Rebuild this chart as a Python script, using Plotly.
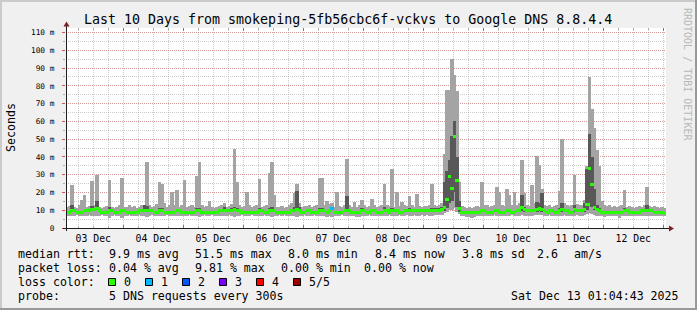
import datetime as dt
import plotly.graph_objects as go

# ---------------- data (hourly buckets starting 2025-12-03 01:00) ----------------
hi_ms = [
    12, 12.5, 24, 12, 11.5, 13, 15.8, 18.6, 12, 12.5, 26.5, 13, 30, 12, 11.5, 12, 12.5, 27, 12, 11.5, 12, 13, 28.4, 12,
    12, 13, 12, 12.5, 11.5, 12, 13, 13, 37, 13, 12, 12.5, 13.5, 26, 25, 14, 12, 13, 20.5, 13, 21.4, 12, 13, 27,
    12, 12.5, 13, 12, 29, 37, 13, 12, 12.5, 15, 12, 11.5, 12, 12.5, 13, 14, 12, 12.5, 13.5, 44.6, 26, 13, 12, 12.5,
    20, 13, 12, 12.5, 13, 27.6, 12, 12.5, 13, 31, 37.4, 18.6, 12, 12, 12.5, 11.5, 12, 13, 14, 19.7, 24.8, 14, 12, 12.5,
    12.5, 13, 12, 12.5, 13, 28.4, 28, 13, 15, 13.5, 14, 12, 20.5, 12.5, 12, 13, 39, 13, 12, 14.6, 12, 13, 15.8, 13,
    12, 12.5, 16.4, 13, 12, 12.5, 13, 25, 13, 12.5, 33.3, 12, 20.3, 12.5, 14.6, 13, 12.5, 18.2, 13, 12, 19, 12.5, 12, 12.5,
    12.5, 13, 24.8, 13, 12.6, 13, 14, 41.6, 77.8, 77.8, 95, 86, 77, 26, 12.5, 12, 11.5, 12, 11, 12, 12.5, 12, 26, 13,
    13, 12, 12.5, 13, 23.3, 20.5, 13, 12.5, 22, 18.6, 13, 20, 13, 14, 38.3, 19.7, 13, 12.5, 24.2, 14, 40.6, 35.6, 22, 13,
    12.5, 13, 12, 12.5, 13, 21, 50, 14, 13, 12.5, 13, 30, 13.5, 13, 13, 16, 34.6, 85, 67, 56, 44, 34.6, 15, 13,
    12.5, 13, 12, 12.5, 12, 12.5, 13, 21.4, 12, 12.5, 12, 11.5, 12, 12.5, 12, 13, 23.3, 12.5, 12, 12.5, 12, 11.5, 12, 11.5,
]
dhi_ms = [
    9.5, 9.5, 13.0, 10.1, 9.5, 9.5, 9.5, 10.1, 10.1, 10.1, 12.5, 11.0, 15.0, 10.1, 9.5, 9.5, 9.5, 12.0, 10.1, 9.5, 9.5, 9.5, 10.1, 10.1,
    9.5, 9.5, 9.5, 9.5, 9.5, 10.1, 10.1, 13.0, 12.5, 10.1, 10.1, 9.5, 9.5, 11.5, 11.5, 9.5, 9.5, 9.5, 9.5, 9.5, 10.1, 10.1, 9.5, 9.5,
    9.5, 9.5, 9.5, 9.5, 11.0, 11.5, 9.5, 9.5, 9.5, 9.5, 9.5, 9.5, 9.5, 10.1, 10.1, 12.0, 10.1, 10.1, 11.2, 11.8, 11.2, 10.1, 9.5, 9.5,
    9.5, 9.5, 9.5, 9.5, 9.5, 11.0, 10.1, 9.5, 9.5, 11.2, 12.0, 10.1, 9.5, 9.5, 9.5, 9.0, 9.0, 9.5, 10.1, 12.0, 21.0, 12.0, 9.5, 9.5,
    10.1, 10.1, 9.5, 9.5, 9.5, 11.0, 11.2, 10.1, 9.5, 10.1, 12.0, 9.5, 9.5, 9.5, 9.5, 10.1, 18.0, 10.1, 9.5, 9.5, 9.5, 9.5, 11.0, 10.1,
    9.5, 9.5, 10.1, 10.1, 9.5, 9.5, 9.5, 12.0, 10.1, 9.5, 11.0, 10.1, 10.1, 9.5, 9.5, 10.1, 10.1, 11.2, 10.6, 10.1, 10.1, 10.1, 10.1, 10.1,
    10.1, 10.6, 11.5, 11.0, 11.2, 11.5, 12.0, 26.0, 32.0, 38.0, 52.0, 60.0, 40.0, 15.0, 9.5, 9.0, 9.0, 9.0, 9.0, 9.5, 9.5, 9.5, 10.1, 10.1,
    9.5, 9.5, 9.5, 10.1, 10.1, 9.5, 9.5, 9.5, 10.1, 10.1, 9.5, 9.5, 10.1, 10.1, 18.6, 12.0, 10.1, 10.1, 10.1, 10.1, 14.8, 14.0, 19.7, 10.1,
    9.5, 10.1, 10.1, 9.5, 9.5, 11.5, 14.0, 10.1, 10.1, 9.5, 9.5, 13.0, 10.1, 10.1, 10.6, 14.0, 33.0, 53.0, 40.0, 22.0, 13.0, 11.0, 9.5, 9.5,
    9.5, 9.5, 9.5, 9.5, 9.5, 9.5, 9.5, 11.0, 10.1, 9.5, 9.5, 9.5, 9.5, 9.5, 10.1, 10.1, 13.0, 10.1, 10.1, 9.5, 9.5, 9.5, 9.5, 8.9,
]
median_ms = [
    9.0, 9.0, 9.6, 9.6, 9.0, 9.0, 9.0, 9.6, 9.6, 9.6, 10.5, 10.5, 11.2, 9.6, 9.0, 9.0, 9.0, 9.6, 9.6, 9.0, 9.0, 9.0, 9.6, 9.6,
    9.0, 9.0, 9.0, 9.0, 9.0, 9.6, 9.6, 10.1, 10.1, 9.6, 9.6, 9.0, 9.0, 9.6, 9.6, 9.0, 9.0, 9.0, 9.0, 9.0, 9.6, 9.6, 9.0, 9.0,
    9.0, 9.0, 9.0, 9.0, 9.6, 9.6, 9.0, 9.0, 9.0, 9.0, 9.0, 9.0, 9.0, 9.6, 9.6, 10.1, 9.6, 9.6, 9.6, 10.5, 10.1, 9.6, 9.0, 9.0,
    9.0, 9.0, 9.0, 9.0, 9.0, 9.6, 9.6, 9.0, 9.0, 9.6, 9.6, 9.6, 9.0, 9.0, 9.0, 8.5, 8.5, 9.0, 9.6, 10.1, 10.5, 9.6, 9.0, 9.0,
    9.6, 9.6, 9.0, 9.0, 9.0, 9.6, 9.6, 9.6, 9.0, 9.6, 10.8, 9.0, 9.0, 9.0, 9.0, 9.6, 10.1, 9.6, 9.0, 9.0, 9.0, 9.0, 9.6, 9.6,
    9.0, 9.0, 9.6, 9.6, 9.0, 9.0, 9.0, 9.6, 9.6, 9.0, 9.6, 9.6, 9.6, 9.0, 9.0, 9.6, 9.6, 10.1, 10.1, 9.6, 9.6, 9.6, 9.6, 9.6,
    9.6, 9.6, 10.1, 10.1, 10.1, 10.1, 10.5, 11.5, 15.8, 29.0, 22.0, 51.5, 26.5, 10.7, 9.0, 8.5, 8.5, 8.5, 8.5, 9.0, 9.0, 9.0, 9.6, 9.6,
    9.0, 9.0, 9.0, 9.6, 9.6, 9.0, 9.0, 9.0, 9.6, 9.6, 9.0, 9.0, 9.6, 9.6, 11.8, 10.5, 9.6, 9.6, 9.6, 9.6, 10.5, 11.0, 10.5, 9.6,
    9.0, 9.6, 9.6, 9.0, 9.0, 10.1, 10.6, 9.6, 9.6, 9.0, 9.0, 10.5, 9.6, 9.6, 10.1, 10.5, 13.4, 33.3, 24.6, 11.3, 10.2, 9.6, 9.0, 9.0,
    9.0, 9.0, 9.0, 9.0, 9.0, 9.0, 9.0, 9.6, 9.6, 9.0, 9.0, 9.0, 9.0, 9.0, 9.6, 9.6, 10.1, 9.6, 9.6, 9.0, 9.0, 9.0, 9.0, 8.4,
]
dlo_ms = [
    8.5, 8.5, 9.1, 9.1, 8.5, 8.5, 8.5, 9.1, 9.1, 9.1, 10.0, 10.0, 10.7, 9.1, 8.5, 8.5, 8.5, 9.1, 9.1, 8.5, 8.5, 8.5, 9.1, 9.1,
    8.5, 8.5, 8.5, 8.5, 8.5, 9.1, 9.1, 9.6, 9.6, 9.1, 9.1, 8.5, 8.5, 9.1, 9.1, 8.5, 8.5, 8.5, 8.5, 8.5, 9.1, 9.1, 8.5, 8.5,
    8.5, 8.5, 8.5, 8.5, 9.1, 9.1, 8.5, 8.5, 8.5, 8.5, 8.5, 8.5, 8.5, 9.1, 9.1, 9.6, 9.1, 9.1, 9.1, 10.0, 9.6, 9.1, 8.5, 8.5,
    8.5, 8.5, 8.5, 8.5, 8.5, 9.1, 9.1, 8.5, 8.5, 9.1, 9.1, 9.1, 8.5, 8.5, 8.5, 8.0, 8.0, 8.5, 9.1, 9.6, 9.5, 9.1, 8.5, 8.5,
    9.1, 9.1, 8.5, 8.5, 8.5, 9.1, 9.1, 9.1, 8.5, 9.1, 10.0, 8.5, 8.5, 8.5, 8.5, 9.1, 9.6, 9.1, 8.5, 8.5, 8.5, 8.5, 9.1, 9.1,
    8.5, 8.5, 9.1, 9.1, 8.5, 8.5, 8.5, 9.1, 9.1, 8.5, 9.1, 9.1, 9.1, 8.5, 8.5, 9.1, 9.1, 9.6, 9.6, 9.1, 9.1, 9.1, 9.1, 9.1,
    9.1, 9.1, 9.6, 9.6, 9.6, 9.6, 10.0, 9.5, 11.0, 14.0, 15.0, 20.0, 12.0, 9.0, 8.5, 8.0, 8.0, 8.0, 8.0, 8.5, 8.5, 8.5, 9.1, 9.1,
    8.5, 8.5, 8.5, 9.1, 9.1, 8.5, 8.5, 8.5, 9.1, 9.1, 8.5, 8.5, 9.1, 9.1, 9.5, 9.2, 9.1, 9.1, 9.1, 9.1, 9.2, 9.6, 9.2, 9.1,
    8.5, 9.1, 9.1, 8.5, 8.5, 9.6, 9.2, 9.1, 9.1, 8.5, 8.5, 9.2, 9.1, 9.1, 9.6, 9.0, 10.0, 14.0, 12.0, 10.0, 9.4, 8.8, 8.5, 8.5,
    8.5, 8.5, 8.5, 8.5, 8.5, 8.5, 8.5, 9.1, 9.1, 8.5, 8.5, 8.5, 8.5, 8.5, 9.1, 9.1, 9.6, 9.1, 9.1, 8.5, 8.5, 8.5, 8.5, 7.9,
]
lo_ms = [
    7.0, 6.8, 6.5, 7.0, 7.2, 6.8, 7.0, 6.5, 7.0, 7.2, 6.8, 7.0, 6.6, 7.0, 7.1, 6.9, 7.0, 5.6, 7.0, 7.2, 6.8, 7.0, 5.5, 7.0,
    7.0, 7.2, 6.8, 7.0, 6.9, 7.1, 6.8, 6.5, 6.4, 7.0, 7.2, 6.9, 6.8, 6.6, 6.5, 7.0, 7.1, 6.8, 6.5, 7.0, 6.8, 7.0, 6.9, 6.6,
    7.0, 7.1, 6.8, 7.0, 6.5, 6.2, 7.0, 7.1, 6.9, 7.0, 7.2, 7.0, 6.8, 7.0, 6.9, 6.6, 7.0, 7.1, 6.8, 6.4, 6.6, 7.0, 7.1, 6.9,
    6.8, 7.0, 7.1, 6.9, 7.0, 6.6, 7.0, 7.1, 6.9, 6.5, 6.4, 6.8, 7.0, 7.2, 7.0, 7.1, 6.9, 7.0, 6.8, 6.6, 6.3, 6.8, 7.0, 7.1,
    7.0, 6.8, 7.0, 7.1, 6.9, 6.6, 6.5, 6.8, 6.4, 6.6, 6.3, 6.8, 6.5, 7.0, 7.1, 6.9, 6.6, 7.0, 6.8, 6.9, 6.4, 6.3, 6.6, 6.9,
    7.0, 7.1, 6.8, 7.0, 6.9, 7.0, 6.8, 6.6, 7.0, 7.1, 6.8, 7.0, 6.9, 7.1, 6.8, 7.0, 7.1, 6.9, 7.0, 7.1, 6.8, 7.0, 7.1, 7.0,
    7.2, 7.0, 6.8, 7.1, 7.3, 7.2, 7.5, 8.5, 9.0, 10.0, 10.0, 11.0, 9.0, 8.0, 7.0, 6.6, 6.4, 6.0, 5.6, 6.2, 6.8, 7.0, 6.8, 6.9,
    7.0, 6.8, 7.0, 7.1, 6.6, 6.8, 7.0, 6.9, 6.7, 7.0, 7.1, 6.8, 7.0, 6.9, 7.2, 7.0, 6.8, 7.0, 6.9, 7.1, 7.2, 7.4, 7.2, 7.0,
    7.0, 7.1, 6.9, 7.0, 6.8, 6.9, 7.0, 7.1, 6.8, 7.0, 6.9, 7.0, 7.1, 6.9, 7.0, 7.2, 7.8, 8.5, 8.0, 7.4, 7.0, 6.8, 6.6, 6.4,
    6.5, 6.8, 6.6, 6.9, 6.8, 5.6, 6.6, 6.8, 7.0, 6.9, 6.8, 7.0, 6.8, 6.9, 7.0, 6.8, 6.6, 6.9, 7.0, 6.8, 6.9, 7.0, 6.8, 7.0,
]
loss_hours = [106]
loss_levels = [1]

y_tick_vals = [0, 10, 20, 30, 40, 50, 60, 70, 80, 90, 100, 110]
y_tick_text = ["0", "10 m", "20 m", "30 m", "40 m", "50 m", "60 m", "70 m", "80 m", "90 m", "100 m", "110 m"]

title_text = "Last 10 Days from smokeping-5fb56cbc6f-vckvs to Google DNS 8.8.4.4"
legend_rtt = [("median rtt:", 16), ("9.9 ms avg", 107), ("51.5 ms max", 193), ("8.0 ms min", 286),
              ("8.4 ms now", 373), ("3.8 ms sd", 460), ("2.6", 535), ("am/s", 572)]
legend_loss = [("packet loss:", 16), ("0.04 % avg", 107), ("9.81 % max", 193), ("0.00 % min", 279),
               ("0.00 % now", 362)]
loss_labels = ["0", "1", "2", "3", "4", "5/5"]
loss_colors = ["#26ff00", "#00b8ff", "#0059ff", "#7e00ff", "#ff0000", "#a10000"]
probe_text = "5 DNS requests every 300s"
stamp_text = "Sat Dec 13 01:04:43 2025"

# ---------------- geometry ----------------
W, H = 697, 310
L, T, PW, PH = 66, 28, 600, 200
YMAX = 112.5
FONT = "DejaVu Sans Mono"
HOUR_MS = 3600000
BAR_W = HOUR_MS * 1.3   # slight overlap hides anti-aliasing seams between buckets


def px(x):
    return (x - L) / PW


def py(y):
    return (T + PH - y) / PH


t0 = dt.datetime(2025, 12, 3, 1, 0, 0)
n = len(median_ms)
centers = [t0 + dt.timedelta(minutes=30 + 60 * h) for h in range(n)]
x_start = dt.datetime(2025, 12, 3, 1, 4, 43)
x_end = dt.datetime(2025, 12, 13, 1, 4, 43)

# median drawn like smokeping: a band a few pixels tall centred on the value
half_band = 1.5 * YMAX / PH
med_colors = [loss_colors[0]] * n
for h, lv in zip(loss_hours, loss_levels):
    med_colors[h] = loss_colors[lv]

fig = go.Figure()
bar_common = dict(x=centers, width=[BAR_W] * n, hoverinfo="skip", showlegend=False)
fig.add_trace(go.Bar(base=lo_ms, y=[b - a for a, b in zip(lo_ms, hi_ms)],
                     marker=dict(color="#a4a4a4", line=dict(width=0)), **bar_common))
fig.add_trace(go.Bar(base=dlo_ms, y=[b - a for a, b in zip(dlo_ms, dhi_ms)],
                     marker=dict(color="#585858", line=dict(width=0)), **bar_common))
fig.add_trace(go.Bar(base=[m - half_band for m in median_ms], y=[2 * half_band] * n,
                     marker=dict(color=med_colors, line=dict(width=0)), **bar_common))
# dummy trace for the top tick axis
fig.add_trace(go.Scatter(x=[centers[1]], y=[None], xaxis="x2", mode="markers", showlegend=False,
                         marker=dict(opacity=0)))

MAJ = "rgba(222,80,80,0.42)"
MIN = "rgba(143,143,143,0.45)"
DASH = "1px,1px"

fig.update_layout(
    width=W, height=H, barmode="overlay", bargap=0,
    margin=dict(l=L, r=W - L - PW, t=T, b=H - T - PH, pad=0),
    paper_bgcolor="#f0f0f0", plot_bgcolor="#ffffff",
    font=dict(family=FONT, color="#000000"),
    xaxis=dict(
        type="date", range=[x_start, x_end], showline=False, zeroline=False,
        tick0="2025-12-03 00:00:00", dtick=86400000, tickformat="%d %b", ticklabelmode="period",
        showgrid=True, gridcolor=MAJ, griddash=DASH, gridwidth=1,
        ticks="inside", ticklen=3, tickcolor="rgb(222,80,80)", tickwidth=1,
        tickfont=dict(family=FONT, size=9.8, color="#000000"), ticklabelstandoff=3,
        minor=dict(dtick=6 * HOUR_MS, tick0="2025-12-03 00:00:00", showgrid=True, gridcolor=MIN,
                   griddash=DASH, ticks="inside", ticklen=2, tickcolor="rgb(170,170,170)"),
        fixedrange=True,
    ),
    xaxis2=dict(
        type="date", overlaying="x", side="top", matches="x", range=[x_start, x_end],
        showline=False, showgrid=False, showticklabels=False, zeroline=False,
        tick0="2025-12-03 00:00:00", dtick=86400000,
        ticks="inside", ticklen=3, tickcolor="rgb(222,80,80)",
        minor=dict(dtick=6 * HOUR_MS, tick0="2025-12-03 00:00:00", showgrid=False,
                   ticks="inside", ticklen=2, tickcolor="rgb(170,170,170)"),
    ),
    yaxis=dict(
        range=[0, YMAX], showline=False, zeroline=False,
        tickvals=y_tick_vals, ticktext=y_tick_text,
        showgrid=True, gridcolor=MAJ, griddash=DASH, gridwidth=1,
        ticks="outside", ticklen=3, tickcolor="rgb(222,80,80)",
        tickfont=dict(family=FONT, size=7.8, color="#000000"), ticklabelstandoff=6,
        minor=dict(dtick=5, tick0=0, showgrid=True, gridcolor=MIN, griddash=DASH,
                   ticks="outside", ticklen=2, tickcolor="rgb(170,170,170)"),
        fixedrange=True,
    ),
)

shapes = []
# frame shading
shapes.append(dict(type="rect", xref="paper", yref="paper", x0=px(0), x1=px(W), y0=py(0), y1=py(2),
                   fillcolor="#cbcbcb", line=dict(width=0), layer="below"))
shapes.append(dict(type="rect", xref="paper", yref="paper", x0=px(0), x1=px(2), y0=py(0), y1=py(H),
                   fillcolor="#cbcbcb", line=dict(width=0), layer="below"))
shapes.append(dict(type="rect", xref="paper", yref="paper", x0=px(0), x1=px(W), y0=py(H - 2), y1=py(H),
                   fillcolor="#999999", line=dict(width=0), layer="below"))
shapes.append(dict(type="rect", xref="paper", yref="paper", x0=px(W - 2), x1=px(W), y0=py(0), y1=py(H),
                   fillcolor="#999999", line=dict(width=0), layer="below"))
# axes
shapes.append(dict(type="line", xref="paper", yref="paper", x0=px(63), x1=px(670), y0=py(228.5), y1=py(228.5),
                   line=dict(color="#1f1f1f", width=1), layer="above"))
shapes.append(dict(type="line", xref="paper", yref="paper", x0=px(66.5), x1=px(66.5), y0=py(231), y1=py(26),
                   line=dict(color="#1f1f1f", width=1), layer="above"))


def tri(pts):
    return "M " + " L ".join(f"{px(a)},{py(b)}" for a, b in pts) + " Z"


shapes.append(dict(type="path", xref="paper", yref="paper",
                   path=tri([(669, 225.5), (674, 228.5), (669, 231.5)]),
                   fillcolor="#7f1f1f", line=dict(width=0), layer="above"))
shapes.append(dict(type="path", xref="paper", yref="paper",
                   path=tri([(63.5, 26.5), (66.5, 21.5), (69.5, 26.5)]),
                   fillcolor="#7f1f1f", line=dict(width=0), layer="above"))

# loss colour boxes
box_x = [108.5, 145.5, 182.5, 219.5, 256.5, 293.5]
for bx, c in zip(box_x, loss_colors):
    shapes.append(dict(type="rect", xref="paper", yref="paper", x0=px(bx), x1=px(bx + 7),
                       y0=py(285.5), y1=py(278.5), fillcolor=c, line=dict(color="#000000", width=1)))
fig.update_layout(shapes=shapes)

ann = []


def text(s, x, y, size=11.6, anchor="left", color="#000000", angle=0, yanchor="middle"):
    ann.append(dict(text=s, x=px(x), y=py(y), xref="paper", yref="paper", showarrow=False,
                    xanchor=anchor, yanchor=yanchor, textangle=angle,
                    font=dict(family=FONT, size=size, color=color)))


text(title_text, 348, 19, size=13.3, anchor="center")
text("Seconds", 11, 128, size=11.6, anchor="center", angle=-90)
text("RRDTOOL / TOBI OETIKER", 688, 74, size=10, anchor="center", angle=90, color="#b8b8b8")
for s, x in legend_rtt:
    text(s, x, 254)
for s, x in legend_loss:
    text(s, x, 268)
text("loss color:", 16, 282)
label_x = [122, 159, 196, 233, 270, 307]
for s, x in zip(loss_labels, label_x):
    text(s, x, 282)
text("probe:", 16, 296)
text(probe_text, 107, 296)
text(stamp_text, 681, 296, anchor="right")
fig.update_layout(annotations=ann)

fig.write_html("out.html")
